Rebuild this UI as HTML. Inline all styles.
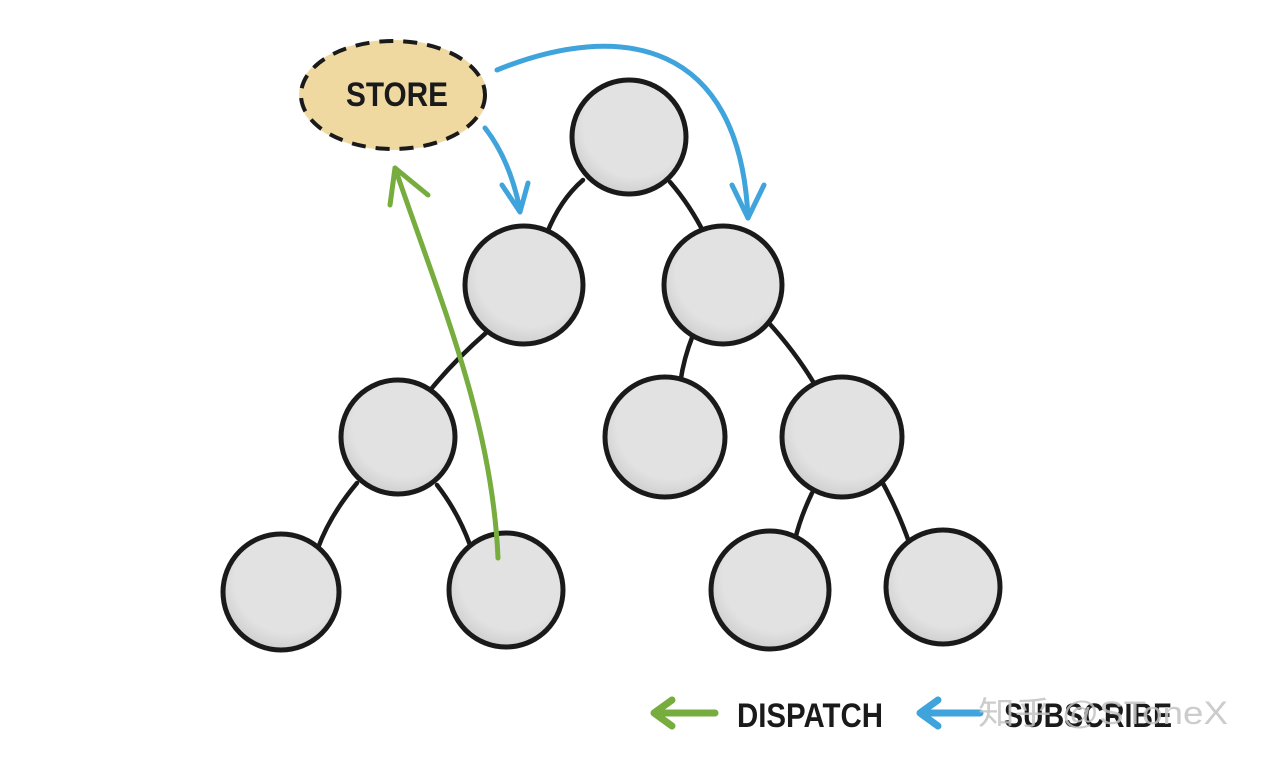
<!DOCTYPE html>
<html><head><meta charset="utf-8"><style>
html,body{margin:0;padding:0;background:#fff;}
svg{display:block;}
text{font-family:"Liberation Sans","Noto Sans CJK SC",sans-serif;font-weight:bold;}
</style></head><body>
<svg width="1262" height="760" viewBox="0 0 1262 760" xmlns="http://www.w3.org/2000/svg">
<defs>
<radialGradient id="g" cx="0.55" cy="0.4" r="0.6">
<stop offset="0.75" stop-color="#e2e2e2"/><stop offset="1" stop-color="#d0d0d0"/>
</radialGradient>
</defs>
<g stroke="#1a1a1a" stroke-width="4.5" fill="none" stroke-linecap="round">
<path d="M583,180 Q560,200 547,233"/>
<path d="M670,182 Q690,205 705,235"/>
<path d="M487,332 Q455,360 432,388"/>
<path d="M693,335 Q683,360 680,385"/>
<path d="M768,322 Q798,355 818,390"/>
<path d="M357,483 Q330,515 318,548"/>
<path d="M437,485 Q458,512 470,545"/>
<path d="M812,493 Q800,518 795,540"/>
<path d="M880,478 Q898,510 910,545"/>
</g>
<g fill="url(#g)" stroke="#1a1a1a" stroke-width="5">
<circle cx="629" cy="137" r="57"/>
<circle cx="524" cy="285" r="59"/>
<circle cx="723" cy="285" r="59"/>
<circle cx="398" cy="437" r="57"/>
<circle cx="665" cy="437" r="60"/>
<circle cx="842" cy="437" r="60"/>
<circle cx="281" cy="592" r="58"/>
<circle cx="506" cy="590" r="57"/>
<circle cx="770" cy="590" r="59"/>
<circle cx="943" cy="587" r="57"/>
</g>
<ellipse cx="393" cy="95" rx="94" ry="55" fill="#efd9a0"/>
<ellipse cx="393" cy="95" rx="92" ry="54" fill="none" stroke="#1a1a1a" stroke-width="4" stroke-dasharray="14,10"/>
<text x="346" y="106" font-size="34" textLength="102" lengthAdjust="spacingAndGlyphs" fill="#1a1a1a">STORE</text>
<g stroke="#76ad3e" stroke-width="5" fill="none" stroke-linecap="round" stroke-linejoin="round">
<path d="M498,558 C492,420 440,300 395,168"/>
<path d="M390,205 L395,168 L428,195"/>
</g>
<g stroke="#3fa3dc" stroke-width="5" fill="none" stroke-linecap="round" stroke-linejoin="round">
<path d="M485,128 Q510,160 520,210"/>
<path d="M502,185 L520,212 L528,183"/>
<path d="M497,70 C620,20 740,40 748,218"/>
<path d="M732,185 L748,218 L764,185"/>
</g>
<g stroke-width="7" fill="none" stroke-linecap="round" stroke-linejoin="round">
<path d="M715,713 L656,713 M672,700 L654,713 L672,726" stroke="#76ad3e"/>
<path d="M980,713 L922,713 M938,700 L920,713 L938,726" stroke="#3fa3dc"/>
</g>
<text x="737" y="727" font-size="34" textLength="146" lengthAdjust="spacingAndGlyphs" fill="#1a1a1a">DISPATCH</text>
<text x="1004" y="727" font-size="34" textLength="168" lengthAdjust="spacingAndGlyphs" fill="#1a1a1a">SUBSCRIBE</text>
<text x="978" y="724" font-size="32" textLength="250" lengthAdjust="spacingAndGlyphs" fill="#c4c4c4" style="font-weight:normal" opacity="0.85">知乎 @SToneX</text>
</svg>
</body></html>
